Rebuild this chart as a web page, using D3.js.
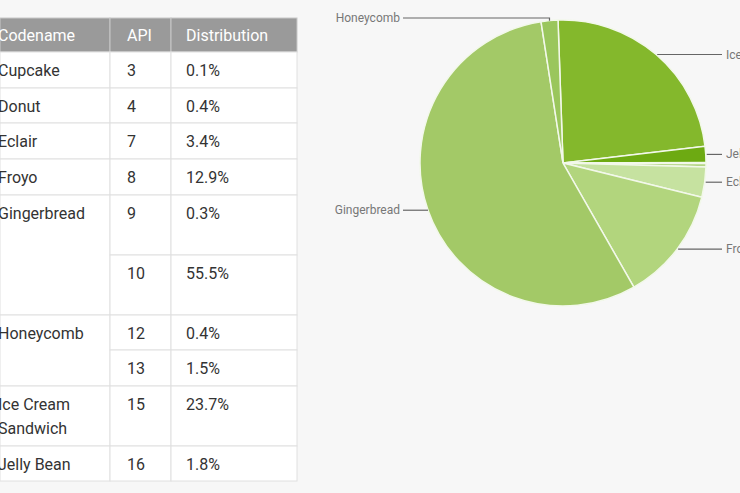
<!DOCTYPE html>
<html><head><meta charset="utf-8">
<script src="https://cdn.jsdelivr.net/npm/d3@7"></script>
<style>body{margin:0;background:#f7f7f7;}svg{display:block;}</style>
</head><body>
<svg id="c" width="740" height="493"></svg>
<script>
const codenames = ["Cupcake","Donut","Eclair","Froyo","Gingerbread","","Honeycomb","","Ice Cream\nSandwich","Jelly Bean"];
const apis = ["3","4","7","8","9","10","12","13","15","16"];
const distLabels = ["0.1%","0.4%","3.4%","12.9%","0.3%","55.5%","0.4%","1.5%","23.7%","1.8%"];
const rowSpans = [1,1,1,1,2,0,2,0,1,1];
const rowHeights = [36,35,36,36,60,60,35,36,60,35];

const pieNames = ["Ice Cream Sandwich","Jelly Bean","Cupcake","Donut","Eclair","Froyo","Gingerbread","Honeycomb"];
const pieValues = [23.7,1.8,0.1,0.4,3.4,12.9,55.8,1.9];
const pieColors = ["#84b82c","#6daa12","#b9d98c","#b4d585","#c6e2a0","#b2d57d","#a3c967","#9ac65c"];
const labeled = ["Ice Cream Sandwich","Jelly Bean","Eclair","Froyo","Gingerbread","Honeycomb"];

const svg = d3.select("#c");
// Table
const colX = [0,110,171,297];
const textX = [-2,127,186];
const headers = ["Codename","API","Distribution"];
const tbl = svg.append("g");
const y0 = 18, hh = 34;
headers.forEach((h,i)=>{
  tbl.append("rect").attr("x",colX[i]).attr("y",y0).attr("width",colX[i+1]-colX[i]).attr("height",hh).attr("fill","#9a9a9a").attr("stroke","#c8c8c8");
  tbl.append("text").attr("x",textX[i]).attr("y",y0+23).text(h).attr("fill","#fff").attr("font-family","Roboto").attr("font-size",16);
});
const rowY = [];
let y = y0+hh;
rowHeights.forEach(h=>{rowY.push(y); y+=h;});
const tfont = t=>t.attr("font-family","Roboto").attr("font-size",16).attr("fill","#333");
rowHeights.forEach((h,i)=>{
  const ry = rowY[i];
  if(rowSpans[i]>0){
    let sh = 0; for(let k=0;k<rowSpans[i];k++) sh += rowHeights[i+k];
    tbl.append("rect").attr("x",colX[0]).attr("y",ry).attr("width",colX[1]).attr("height",sh).attr("fill","#fff").attr("stroke","#e0e0e0");
    const lines = codenames[i].split("\n");
    lines.forEach((l,j)=>tfont(tbl.append("text")).attr("x",textX[0]).attr("y",ry+24+j*24).text(l));
  }
  [1,2].forEach(c=>{
    tbl.append("rect").attr("x",colX[c]).attr("y",ry).attr("width",colX[c+1]-colX[c]).attr("height",h).attr("fill","#fff").attr("stroke","#e0e0e0");
  });
  tfont(tbl.append("text")).attr("x",textX[1]).attr("y",ry+24).text(apis[i]);
  tfont(tbl.append("text")).attr("x",textX[2]).attr("y",ry+24).text(distLabels[i]);
});

// Pie
const cx=563, cy=163, r=143;
const start = -2*Math.PI/180;
const pie = d3.pie().sort(null).value(d=>d).startAngle(start).endAngle(start+2*Math.PI);
const arcs = pie(pieValues);
const arc = d3.arc().innerRadius(0).outerRadius(r);
const g = svg.append("g").attr("transform",`translate(${cx},${cy})`);
g.selectAll("path").data(arcs).join("path").attr("d",arc).attr("fill",(d,i)=>pieColors[i]).attr("stroke","#f2f8ea").attr("stroke-width",1.5);

const lab = svg.append("g");
arcs.forEach((d,i)=>{
  const name = pieNames[i];
  if(!labeled.includes(name)) return;
  const a = (d.startAngle+d.endAngle)/2;
  const px = cx + r*Math.sin(a), py = cy - r*Math.cos(a);
  let pts, tx, ty, anchor;
  if(name==="Honeycomb"){ ty=18; pts=[[px,py],[px,ty],[403,ty]]; tx=400; anchor="end"; }
  else if(px<cx){ ty=py; pts=[[px,py],[403,py]]; tx=400; anchor="end"; }
  else { ty=py; pts=[[px+1,py],[722,py]]; tx=726; anchor="start"; }
  lab.append("path").attr("d",d3.line()(pts)).attr("fill","none").attr("stroke","#666").attr("stroke-width",1.2);
  lab.append("text").attr("x",tx).attr("y",ty+4).attr("text-anchor",anchor).text(name)
    .attr("font-family","Roboto").attr("font-size",12).attr("fill","#777");
});
</script>
</body></html>
